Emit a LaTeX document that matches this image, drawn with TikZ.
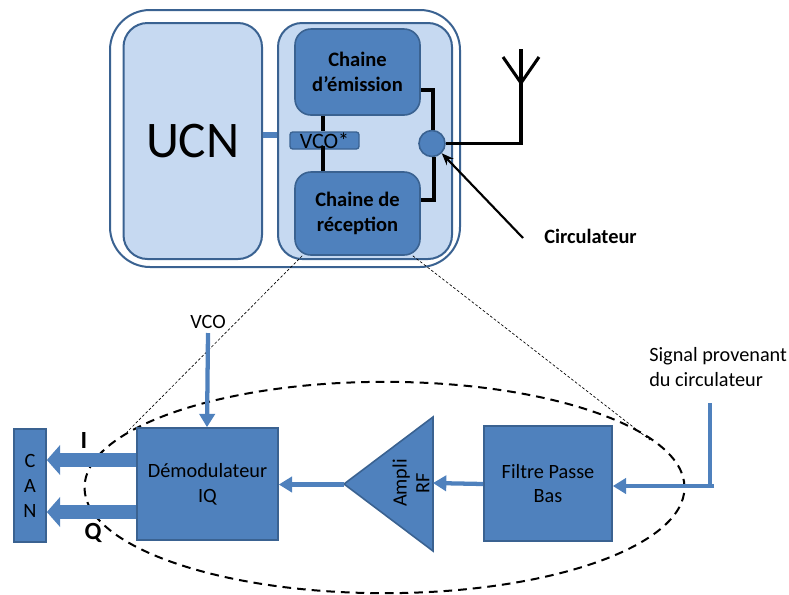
\documentclass[tikz,border=0pt]{standalone}
\usepackage{fontspec}
\setmainfont{Carlito}
\usetikzlibrary{arrows.meta,calc,shapes.geometric}
\definecolor{fillb}{HTML}{4F81BD}
\definecolor{edgeb}{HTML}{3A6291}
\definecolor{pale}{HTML}{C6D9F1}
\newcommand\lowerline[1]{\raisebox{-1.1pt}{#1}}
\tikzset{
  x=0.75pt,y=-0.75pt,
  pos box/.style 2 args={minimum width=#1*0.75pt,minimum height=#2*0.75pt,inner sep=0pt,align=center},
  lightbox/.style={draw=edgeb,fill=pale,line width=1.5pt,rounded corners=18pt},
  chainbox/.style={draw=edgeb,fill=fillb,line width=1.2pt,rounded corners=12pt,font=\fontsize{15.4pt}{18.75pt}\selectfont\bfseries},
  block/.style={draw=edgeb,fill=fillb,line width=1.2pt,font=\fontsize{15.2pt}{18.5pt}\selectfont},
  wire/.style={draw=black,line width=2.3pt},
  feed/.style={draw=fillb,line width=3.2pt,-{Triangle[length=10pt,width=11.5pt]}},
  bus/.style={draw=fillb,line width=10.5pt,-{Triangle[length=10pt,width=22pt]}},
  textlab/.style={inner sep=0pt,font=\fontsize{15.2pt}{18.75pt}\selectfont,align=left},
  zoomline/.style={draw=black,line width=0.5pt,dash pattern=on 2pt off 1.5pt},
}
\begin{document}
\begin{tikzpicture}
\useasboundingbox (0,0) rectangle (789,594);
% zoom ellipse and guide lines lie behind the blocks
\node[draw=black,line width=1.5pt,dash pattern=on 6.5pt off 4.5pt,ellipse,minimum width=450pt,minimum height=158.5pt,inner sep=0pt] (zone) at (384.5,487.5) {};
% upper block
\node[pos box={350}{257},draw=edgeb,fill=white,line width=1.5pt,rounded corners=30pt] (outer) at (285,138.5) {};
\node[pos box={138.5}{236},lightbox] (ucn) at (192.75,141) {\fontsize{38.5pt}{40pt}\selectfont UCN};
\node[pos box={174}{236},lightbox] (radio) at (365,141) {};
\node[pos box={125}{86},chainbox] (tx) at (357.5,72) {\lowerline{Chaine}\\\lowerline{d’émission}};
\node[pos box={125}{83},chainbox] (rx) at (357.5,213.5) {\lowerline{Chaine de}\\\lowerline{réception}};
\coordinate (vcoc) at (324.5,140.5);
\coordinate (vx) at (323,0);
\coordinate (vlow) at (323,146);
\coordinate (tx1) at (433,90);
\coordinate (rx1) at (434,200);
\node[pos box={69}{17},draw=edgeb,fill=fillb,line width=1pt,rounded corners=2pt,font=\fontsize{16.5pt}{14pt}\selectfont] (vcos) at (vcoc) {VCO*};
\draw[wire] (tx.south -| vx) -- (vcos.north -| vx);
\draw[wire] (vlow) -- (rx.north -| vx);
\draw[draw=fillb,line width=4.5pt] (ucn.east |- 0,135) -- (radio.west |- 0,135);
\node[circle,draw=edgeb,fill=fillb,line width=1.2pt,minimum size=19.5pt,inner sep=0pt] (circ) at (432,143.5) {};
\draw[wire] (tx.east |- tx1) -- (tx1) -- (circ.north -| tx1);
\draw[wire] (rx.east |- rx1) -- (rx1) -- (circ.south -| rx1);
\coordinate (ant) at (521,83);
\coordinate (antl) at (503,57);
\coordinate (antr) at (539,57);
\coordinate (antt) at (521,49);
\draw[wire] (circ.east) -- (ant |- circ.east) -- (antt);
\draw[wire] (antl) -- (ant) -- (antr);
\node[textlab,font=\fontsize{15.3pt}{16pt}\selectfont\bfseries,anchor=west] (circlab) at (544,236) {Circulateur};
\coordinate (circfrom) at (523,238);
\draw[draw=black,line width=1.6pt,-{Stealth[length=9pt,width=7pt]}] (circfrom) -- (circ.south east);
% lower chain
\draw[zoomline] (rx.south west) ++(8,0) -- (127,432);
\draw[zoomline] (rx.south east) ++(-8,0) -- (650,440);
\node[pos box={32}{113},block,font=\fontsize{15.2pt}{18.75pt}\selectfont] (can) at (30,485.5) {\lowerline{C}\\\lowerline{A}\\\lowerline{N}};
\node[pos box={141}{112},block] (demod) at (207.5,484) {\lowerline{Démodulateur}\\\lowerline{IQ}};
\coordinate (tip) at (344,484);
\coordinate (ampt) at (433,417);
\coordinate (ampb) at (433,551);
\draw[draw=edgeb,fill=fillb,line width=1.2pt,line join=miter] (tip) -- (ampt) -- (ampb) -- cycle;
\node[rotate=90,inner sep=0pt,align=center,font=\fontsize{15.2pt}{17pt}\selectfont] (amp) at (411,483) {Ampli\\RF};
\node[pos box={128}{115},block] (filt) at (548,483.5) {\lowerline{Filtre Passe}\\\lowerline{Bas}};
\node[textlab,anchor=center] (vco) at (208,322) {VCO};
\draw[feed] (208,333) -- (demod.north -| 207,0);
\draw[bus] (demod.west |- 0,460) -- (can.east |- 0,460);
\draw[bus] (demod.west |- 0,512) -- (can.east |- 0,512);
\node[inner sep=0pt,font=\fontsize{18.5pt}{20pt}\selectfont\bfseries] (ilab) at (84,440) {I};
\node[inner sep=0pt,font=\fontsize{18.5pt}{20pt}\selectfont\bfseries] (qlab) at (93,533) {Q};
\draw[feed] (tip) ++(0,0.5) -- (demod.east |- 0,484.5);
\draw[feed] (filt.west |- 0,484) -- (ampb |- 0,483);
\node[textlab,anchor=north west] (sig) at (649,347.5) {Signal provenant\\du circulateur};
\coordinate (sigtop) at (710,403);
\coordinate (sigcorner) at (710,486);
\draw[draw=fillb,line width=3.2pt] (sigtop) -- (sigcorner);
\draw[feed] (714,486) -- (filt.east |- 0,486);
\end{tikzpicture}
\end{document}
